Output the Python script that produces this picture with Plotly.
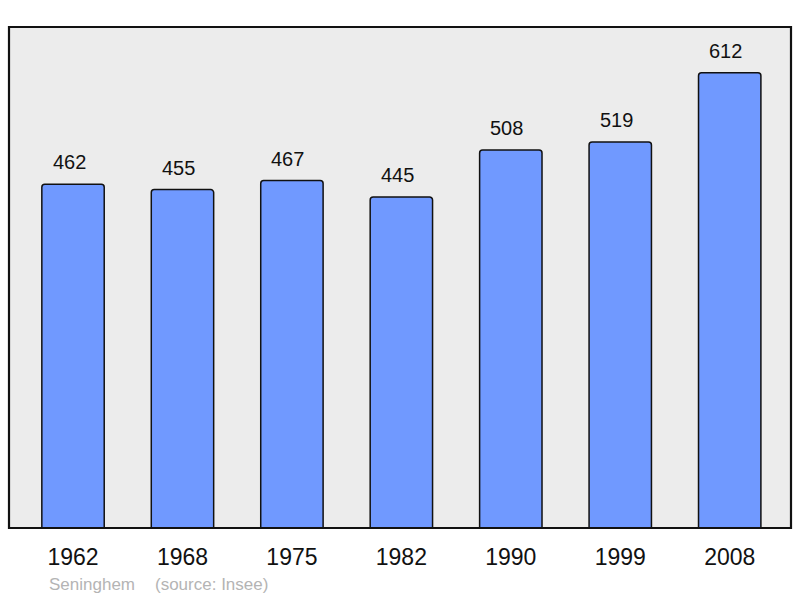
import plotly.graph_objects as go

years = ["1962", "1968", "1975", "1982", "1990", "1999", "2008"]
population = [462, 455, 467, 445, 508, 519, 612]
commune = "Seninghem"
source = "(source: Insee)"

xpos = list(range(len(years)))

fig = go.Figure()
fig.add_trace(go.Bar(
    x=xpos, y=population, width=0.57,
    marker=dict(color="#7099ff", line=dict(color="#111111", width=1.5), cornerradius=3),
    hoverinfo="skip",
))
for xi, v in zip(xpos, population):
    fig.add_annotation(x=xi, y=v, text=str(v), showarrow=False, yshift=22, xshift=-4,
                       font=dict(size=20, color="#111111"), xanchor="center", yanchor="middle")

fig.update_layout(
    width=800, height=598,
    margin=dict(l=9, r=9, t=27, b=70),
    paper_bgcolor="white", plot_bgcolor="#ececec",
    font=dict(family="Liberation Sans, Arial, sans-serif"),
    showlegend=False,
    xaxis=dict(range=[-0.585, 6.56], tickmode="array", tickvals=xpos, ticktext=years,
               showgrid=False, zeroline=False, ticks="outside", ticklen=8,
               tickcolor="rgba(0,0,0,0)", tickfont=dict(size=23, color="#111111"), fixedrange=True),
    yaxis=dict(range=[0, 673.5], showgrid=False, zeroline=False, showticklabels=False, fixedrange=True),
    shapes=[dict(type="rect", xref="paper", yref="paper", x0=0, x1=1, y0=0, y1=1,
                 line=dict(color="#111111", width=2.2))],
)
fig.add_annotation(xref="paper", yref="paper", x=(47 - 9) / 782, y=-(584 - 528) / 501,
                   text=commune, showarrow=False, xanchor="left", yanchor="middle",
                   font=dict(size=17, color="#b4b4b4"))
fig.add_annotation(xref="paper", yref="paper", x=(153 - 9) / 782, y=-(584 - 528) / 501,
                   text=source, showarrow=False, xanchor="left", yanchor="middle",
                   font=dict(size=17, color="#b4b4b4"))

fig.write_html("out.html", config={"displayModeBar": False, "staticPlot": True},
               post_script="document.body.style.margin='0';document.body.style.overflow='hidden';")
